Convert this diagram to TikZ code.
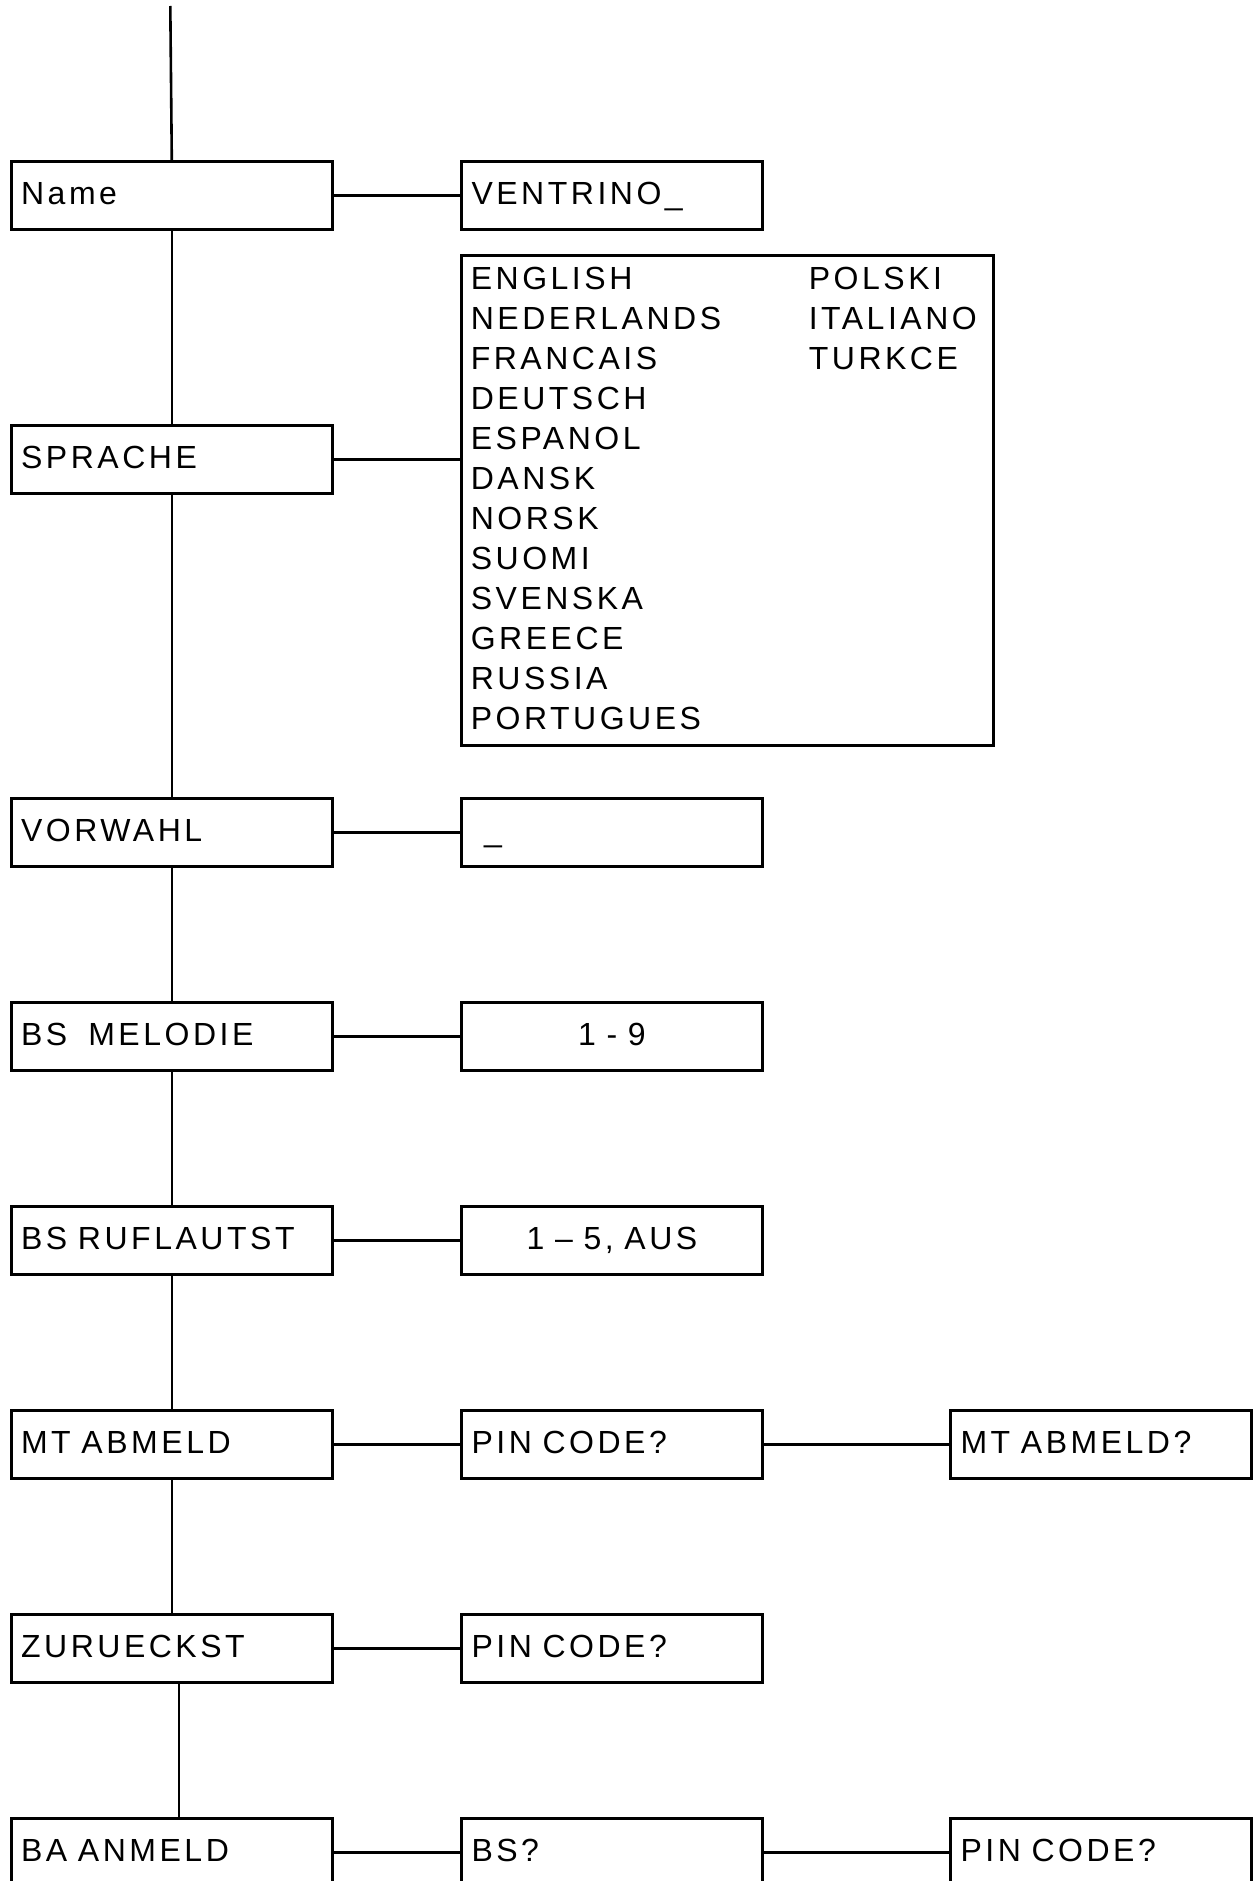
\documentclass[tikz,border=0pt]{standalone}
\usepackage{fontspec}
\setmainfont[LetterSpace=11]{Liberation Sans}
\usepackage{array}
\newcommand\diafont{\fontsize{32pt}{40pt}\selectfont}
\begin{document}
\begin{tikzpicture}[x=1pt,y=-1pt,line width=2.6pt,
  box/.style={draw, rectangle, anchor=north west, line width=3pt,
    minimum height=68pt, inner ysep=0pt, inner xsep=10pt,
    text height=23pt, text depth=5pt, align=left, font=\diafont},
  lbox/.style={box, text width=301.4pt},
  mbox/.style={box, text width=281pt},
  link/.style={line width=2.6pt}]
\useasboundingbox (0,0) rectangle (1253,1881);
\fill[white] (0,0) rectangle (1253,1881);
% left column
\node[lbox] (name) at (9.6,160) {Name};
\node[lbox] (sprache) at (9.6,424) {SPRACHE};
\node[lbox] (vorwahl) at (9.6,797) {VORWAHL};
\node[lbox] (melodie) at (9.6,1001) {BS\hspace{21pt}MELODIE};
\node[lbox] (ruf) at (9.6,1205) {BS RUFLAUTST};
\node[lbox] (mt) at (9.6,1409) {MT ABMELD};
\node[lbox] (zur) at (9.6,1613) {ZURUECKST};
\node[lbox] (ba) at (9.6,1817) {BA ANMELD};
% middle column
\node[mbox] (ventrino) at (460,160) {VENTRINO\_};
\node[draw, rectangle, anchor=north west, line width=3pt, minimum width=532pt, minimum height=490pt, inner sep=0pt] (lang) at (460,254) {};
\node[anchor=north west, inner sep=0pt, font=\diafont] (langlist) at (469.5,260)
  {\begin{tabular}{@{}p{338pt}@{}l@{}}
   ENGLISH & POLSKI\\
   NEDERLANDS & ITALIANO\\
   FRANCAIS & TURKCE\\
   DEUTSCH & \\
   ESPANOL & \\
   DANSK & \\
   NORSK & \\
   SUOMI & \\
   SVENSKA & \\
   GREECE & \\
   RUSSIA & \\
   PORTUGUES &
   \end{tabular}};
\node[mbox] (vorwahlin) at (460,797) {\hspace*{12.5pt}\_};
\node[mbox, align=center] (melodiein) at (460,1001) {1 - 9};
\node[mbox, align=center] (rufin) at (460,1205) {1 – 5, AUS};
\node[mbox] (mtpin) at (460,1409) {PIN CODE?};
\node[mbox] (zurpin) at (460,1613) {PIN CODE?};
\node[mbox] (bs) at (460,1817) {BS?};
% right column
\node[mbox] (mtq) at (949,1409) {MT ABMELD?};
\node[mbox] (bapin) at (949,1817) {PIN CODE?};
% vertical trunk
\coordinate (top) at (170.3,6);
\draw[link] (top) -- (name.north);
\draw[link] (name.south) -- (sprache.north);
\draw[link] (sprache.south) -- (vorwahl.north);
\draw[link] (vorwahl.south) -- (melodie.north);
\draw[link] (melodie.south) -- (ruf.north);
\draw[link] (ruf.south) -- (mt.north);
\draw[link] (mt.south) -- (zur.north);
\draw[link] ([xshift=7pt]zur.south) -- ([xshift=7pt]ba.north);
% horizontal links
\draw[link] (name) -- (ventrino);
\draw[link] (sprache.east) -- (sprache.east -| lang.west);
\draw[link] (vorwahl) -- (vorwahlin);
\draw[link] (melodie) -- (melodiein);
\draw[link] (ruf) -- (rufin);
\draw[link] (mt) -- (mtpin);
\draw[link] (mtpin) -- (mtq);
\draw[link] (zur) -- (zurpin);
\draw[link] (ba) -- (bs);
\draw[link] (bs) -- (bapin);
\end{tikzpicture}
\end{document}
